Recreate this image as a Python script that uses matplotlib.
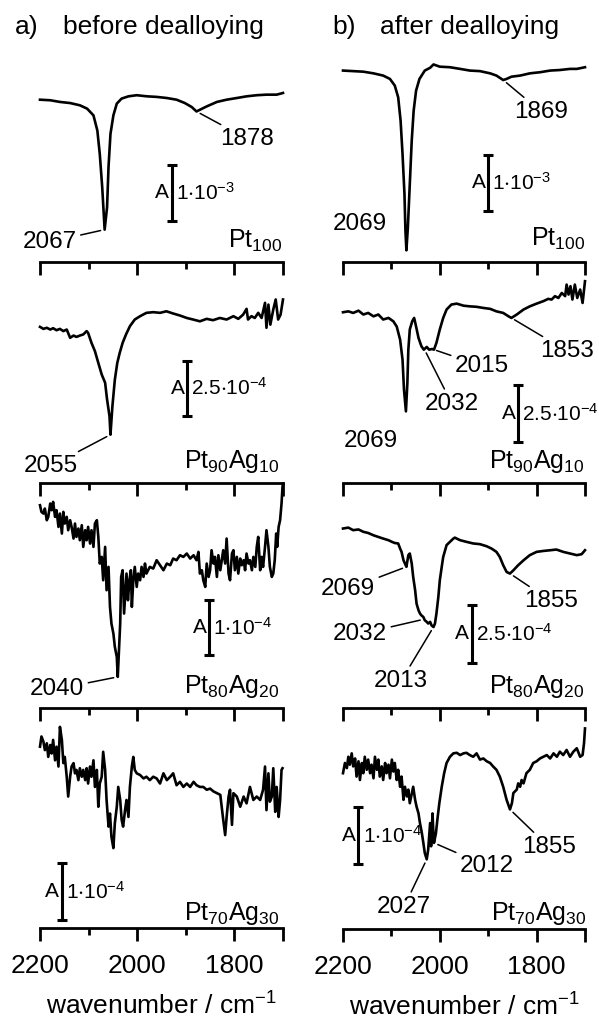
import numpy as np
import matplotlib.pyplot as plt

plt.rcParams['font.family'] = ['Liberation Sans', 'DejaVu Sans']
plt.rcParams['mathtext.fontset'] = 'custom'
plt.rcParams['mathtext.rm'] = 'Liberation Sans'
plt.rcParams['mathtext.it'] = 'Liberation Sans:italic'
plt.rcParams['mathtext.bf'] = 'Liberation Sans:bold'
plt.rcParams['mathtext.default'] = 'regular'

# ---------------- data: absorbance change, units of 1e-4 ----------------
# a) before dealloying
wn_a1 = [2200, 2179, 2159, 2138, 2118, 2103, 2090, 2082, 2077, 2072, 2067, 2062, 2059, 2055, 2049,
         2042, 2032, 2018, 2001, 1980, 1960, 1939, 1919, 1902, 1888, 1878, 1871, 1857, 1836, 1816,
         1795, 1775, 1754, 1734, 1713, 1700]
abs_a1 = [0.0, -0.1, -0.4, -0.6, -1.0, -1.6, -2.8, -5.5, -9.7, -15.6, -23.2, -19.2, -12.0, -6.1, -2.8,
          -0.7, 0.2, 0.6, 0.8, 0.6, 0.5, 0.3, 0.0, -0.6, -1.3, -2.1, -1.8, -1.2, -0.4, 0.0,
          0.3, 0.6, 0.8, 0.9, 0.9, 1.2]

wn_a2 = [2200, 2193, 2186, 2179, 2173, 2166, 2159, 2152, 2145, 2138, 2131, 2125, 2118, 2111, 2104,
         2101, 2094, 2087, 2080, 2073, 2066, 2062, 2057, 2055, 2051, 2046, 2041, 2036, 2030, 2023,
         2015, 2005, 1994, 1981, 1967, 1953, 1940, 1926, 1912, 1898, 1885, 1871, 1857, 1844, 1830,
         1816, 1802, 1792, 1782, 1775, 1772, 1765, 1758, 1751, 1744, 1737, 1734, 1730, 1726, 1720,
         1715, 1710, 1705, 1700]
abs_a2 = [0.0, -0.09, -0.04, -0.12, -0.06, -0.15, -0.09, -0.19, -0.12, -0.49, -0.39, -0.45, -0.39, -0.34, -0.19,
          -0.27, -0.72, -1.09, -1.62, -2.14, -2.51, -3.26, -4.01, -4.84, -3.56, -2.37, -1.62, -1.17, -0.72, -0.34,
          0.03, 0.33, 0.48, 0.63, 0.66, 0.63, 0.70, 0.60, 0.51, 0.40, 0.33, 0.25, 0.36, 0.30, 0.40,
          0.33, 0.48, 0.36, 0.55, 0.81, 0.33, 0.48, 0.40, 0.63, 0.40, 1.08, -0.04, 1.00, 0.10, 0.78,
          1.23, 0.33, 0.55, 1.23]

wn_a3 = [2200, 2197, 2193, 2190, 2186, 2183, 2179, 2176, 2173, 2169,
         2166, 2162, 2159, 2155, 2152, 2149, 2145, 2142, 2138, 2135,
         2131, 2128, 2125, 2121, 2118, 2114, 2111, 2107, 2104, 2101,
         2097, 2094, 2090, 2087, 2083, 2080, 2077, 2073, 2070, 2066,
         2063, 2059, 2056, 2053, 2049, 2046, 2042, 2040, 2035, 2033,
         2030, 2027, 2024, 2022, 2019, 2016, 2013, 2011, 2008, 2005,
         2001, 1998, 1994, 1991, 1987, 1984, 1981, 1974, 1967, 1960,
         1953, 1946, 1939, 1932, 1926, 1919, 1912, 1905, 1898, 1891,
         1884, 1878, 1874, 1871, 1867, 1864, 1860, 1857, 1853, 1850,
         1847, 1843, 1840, 1836, 1833, 1829, 1826, 1823, 1819, 1816,
         1812, 1809, 1805, 1802, 1799, 1795, 1792, 1788, 1785, 1781,
         1778, 1775, 1771, 1768, 1764, 1761, 1757, 1754, 1751, 1747,
         1744, 1741, 1737, 1734, 1730, 1727, 1723, 1720, 1717, 1714,
         1712, 1709, 1706, 1703, 1701, 1700]
abs_a3 = [0.00, -0.12, -0.15, -0.06, -0.27, -0.21, 0.03, -0.09, 0.06, -0.21,
          -0.09, -0.39, -0.15, -0.51, -0.12, -0.33, -0.21, -0.45, -0.27, -0.39,
          -0.60, -0.33, -0.57, -0.42, -0.63, -0.36, -0.75, -0.45, -0.63, -0.39,
          -0.69, -0.45, -0.75, -0.33, -0.27, -0.57, -1.05, -0.93, -1.35, -0.75,
          -1.53, -1.11, -1.83, -2.13, -2.31, -2.55, -2.73, -3.09, -2.13, -1.29,
          -1.17, -1.95, -1.53, -1.23, -1.71, -1.35, -1.17, -1.83, -1.35, -1.11,
          -1.47, -1.23, -1.35, -1.11, -1.29, -1.05, -1.23, -1.11, -1.14, -0.99,
          -1.08, -1.17, -1.05, -1.08, -0.96, -0.99, -0.90, -0.93, -0.87, -0.96,
          -0.90, -0.99, -0.84, -1.23, -1.17, -1.35, -1.47, -1.05, -1.29, -1.17,
          -0.81, -1.05, -0.93, -1.29, -0.90, -1.17, -0.99, -0.81, -1.05, -0.60,
          -1.23, -1.35, -0.87, -0.81, -1.17, -0.93, -1.23, -0.96, -1.08, -0.99,
          -1.17, -0.87, -1.05, -0.99, -1.17, -0.93, -1.11, -0.75, -0.57, -1.17,
          -0.93, -1.11, -0.75, -0.45, -0.75, -1.11, -1.29, -1.23, -0.99, -0.51,
          -0.75, -0.39, -0.27, 0.03, 0.33, 0.39]

wn_a4 = [2200, 2197, 2193, 2190, 2186, 2183, 2179, 2176, 2173, 2169,
         2166, 2162, 2159, 2155, 2152, 2149, 2145, 2142, 2138, 2135,
         2131, 2128, 2125, 2121, 2118, 2114, 2111, 2107, 2104, 2101,
         2097, 2094, 2090, 2087, 2083, 2080, 2077, 2073, 2070, 2066,
         2063, 2059, 2056, 2053, 2049, 2046, 2042, 2039, 2035, 2032,
         2029, 2025, 2022, 2018, 2015, 2011, 2008, 2005, 2001, 1994,
         1987, 1981, 1974, 1967, 1960, 1953, 1946, 1939, 1932, 1926,
         1919, 1912, 1905, 1898, 1891, 1884, 1878, 1871, 1864, 1857,
         1850, 1843, 1836, 1829, 1823, 1819, 1816, 1812, 1809, 1805,
         1802, 1795, 1788, 1781, 1775, 1768, 1761, 1754, 1747, 1741,
         1737, 1734, 1730, 1727, 1723, 1720, 1716, 1713, 1709, 1706, 1703, 1701]
abs_a4 = [0.00, 0.18, 0.09, -0.06, 0.06, -0.18, 0.03, -0.12, 0.12, -0.24,
          0.00, -0.35, 0.35, 0.12, -0.29, -0.18, -0.53, -0.88, -0.53, -0.35,
          -0.29, -0.47, -0.41, -0.59, -0.38, -0.53, -0.41, -0.59, -0.38, -0.65,
          -0.35, -0.53, -0.24, -0.71, -0.41, -1.06, -0.65, -0.53, -0.09, -0.41,
          -0.94, -1.41, -1.18, -1.59, -1.79, -1.35, -1.06, -0.71, -0.94, -1.29,
          -1.41, -1.12, -0.94, -1.24, -0.71, -0.35, -0.18, -0.41, -0.47, -0.50,
          -0.56, -0.53, -0.59, -0.53, -0.56, -0.65, -0.47, -0.59, -0.53, -0.47,
          -0.68, -0.62, -0.71, -0.65, -0.71, -0.62, -0.68, -0.71, -0.71, -0.76,
          -0.74, -0.79, -0.82, -0.85, -1.29, -1.56, -1.24, -0.88, -0.76, -1.38,
          -0.82, -0.88, -1.06, -0.88, -1.00, -0.71, -0.94, -0.88, -0.94, -0.76,
          -0.35, -1.12, -0.47, -0.97, -0.88, -0.38, -1.15, -0.71, -1.24, -0.94, -0.41, -0.38]

# b) after dealloying
wn_b1 = [2200, 2179, 2158, 2137, 2117, 2103, 2093, 2086, 2081, 2077, 2073, 2071, 2069, 2066, 2062,
         2058, 2054, 2049, 2042, 2031, 2020, 2013, 2000, 1979, 1958, 1938, 1917, 1896, 1883, 1869,
         1862, 1852, 1834, 1814, 1793, 1772, 1752, 1731, 1717, 1700]
abs_b1 = [0.0, -0.1, -0.2, -0.5, -0.9, -1.5, -2.7, -4.8, -9.0, -15.0, -22.2, -28.8, -32.3, -28.2, -20.4,
          -12.6, -7.2, -3.6, -1.5, 0.0, 0.5, 1.1, 0.7, 0.6, 0.3, 0.0, -0.1, -0.5, -0.9, -1.7,
          -1.5, -1.1, -0.9, -0.5, -0.3, 0.0, 0.1, 0.3, 0.3, 0.6]

wn_b2 = [2200, 2189, 2179, 2168, 2158, 2148, 2137, 2127, 2117, 2106, 2096, 2089, 2082, 2077, 2074,
         2070, 2067, 2065, 2062, 2057, 2053, 2049, 2044, 2038, 2033, 2027, 2022, 2016, 2012, 2007,
         2000, 1993, 1986, 1976, 1965, 1951, 1938, 1924, 1910, 1896, 1883, 1869, 1858, 1852, 1841,
         1827, 1814, 1800, 1786, 1776, 1769, 1762, 1755, 1748, 1741, 1738, 1734, 1730, 1726, 1721,
         1716, 1710, 1705, 1700]
abs_b2 = [0.0, 0.04, -0.03, 0.07, -0.10, -0.03, -0.18, -0.10, -0.32, -0.25, -0.40, -0.63, -1.21, -2.09, -3.41,
          -4.37, -3.12, -1.65, -0.76, -0.40, -0.25, -0.63, -1.13, -1.50, -1.65, -1.53, -1.65, -1.62, -1.65, -1.35,
          -0.76, -0.25, 0.12, 0.34, 0.38, 0.29, 0.26, 0.24, 0.19, 0.15, 0.04, -0.03, -0.18, -0.25, -0.10,
          0.12, 0.26, 0.38, 0.49, 0.59, 0.56, 0.71, 0.63, 0.85, 0.71, 1.22, 0.78, 1.15, 0.56, 1.22,
          0.63, 1.00, 0.41, 1.37]

wn_b3 = [2200, 2189, 2179, 2168, 2158, 2148, 2137, 2127, 2117, 2106,
         2099, 2093, 2086, 2082, 2079, 2075, 2072, 2069, 2065, 2062,
         2058, 2055, 2051, 2048, 2044, 2041, 2038, 2034, 2031, 2027,
         2024, 2020, 2017, 2013, 2010, 2007, 2003, 2000, 1996, 1993,
         1989, 1986, 1979, 1972, 1969, 1958, 1945, 1931, 1917, 1903,
         1893, 1883, 1876, 1869, 1862, 1855, 1848, 1838, 1827, 1814,
         1800, 1786, 1772, 1759, 1745, 1731, 1717, 1707, 1700]
abs_b3 = [0.00, 0.04, -0.07, -0.04, -0.14, -0.19, -0.29, -0.36, -0.43, -0.50,
          -0.57, -0.62, -0.64, -0.86, -1.00, -1.36, -1.50, -1.64, -1.14, -1.07,
          -1.50, -2.07, -2.64, -3.22, -3.50, -3.64, -3.72, -3.79, -3.93, -4.00,
          -4.07, -4.00, -4.15, -4.22, -4.07, -3.65, -2.93, -2.22, -1.64, -1.22,
          -0.93, -0.71, -0.57, -0.43, -0.39, -0.50, -0.57, -0.64, -0.67, -0.76,
          -0.86, -1.00, -1.22, -1.57, -1.86, -1.93, -1.79, -1.57, -1.36, -1.14,
          -1.00, -0.96, -0.93, -0.90, -1.00, -1.07, -1.14, -1.10, -0.93]

wn_b4 = [2200, 2196, 2192, 2189, 2186, 2182, 2179, 2175, 2172, 2168,
         2165, 2161, 2158, 2155, 2151, 2148, 2144, 2141, 2137, 2134,
         2130, 2127, 2124, 2120, 2117, 2113, 2110, 2106, 2103, 2099,
         2096, 2093, 2089, 2086, 2082, 2079, 2075, 2072, 2068, 2065,
         2062, 2055, 2051, 2048, 2044, 2041, 2037, 2034, 2031, 2027,
         2024, 2020, 2018, 2015, 2013, 2012, 2008, 2005, 2001, 1996,
         1991, 1986, 1979, 1972, 1965, 1958, 1951, 1945, 1938, 1931,
         1924, 1917, 1910, 1903, 1896, 1890, 1883, 1876, 1869, 1862,
         1855, 1851, 1848, 1841, 1838, 1834, 1831, 1827, 1821, 1814,
         1807, 1800, 1793, 1786, 1779, 1772, 1765, 1758, 1752, 1745,
         1738, 1731, 1724, 1717, 1710, 1705, 1702, 1700]
abs_b4 = [0.00, 0.18, 0.09, 0.29, 0.15, 0.35, 0.12, 0.26, -0.06, 0.21,
          -0.12, 0.18, 0.00, 0.29, 0.06, 0.24, 0.00, 0.15, -0.09, 0.29,
          0.06, 0.24, -0.06, 0.12, -0.12, 0.18, 0.00, 0.15, -0.09, 0.24,
          0.03, 0.18, -0.12, 0.06, -0.24, -0.06, -0.47, -0.24, -0.41, -0.29,
          -0.53, -0.24, -0.47, -0.59, -0.71, -0.88, -1.06, -1.23, -1.41, -1.52,
          -1.35, -0.88, -1.29, -0.71, -1.12, -1.23, -1.06, -0.82, -0.53, -0.24,
          0.00, 0.18, 0.29, 0.35, 0.36, 0.32, 0.35, 0.36, 0.32, 0.29,
          0.35, 0.24, 0.26, 0.21, 0.18, 0.12, 0.06, -0.06, -0.24, -0.47,
          -0.64, -0.53, -0.35, -0.29, -0.18, -0.24, -0.12, -0.18, 0.00, 0.06,
          0.18, 0.21, 0.26, 0.29, 0.32, 0.26, 0.35, 0.29, 0.38, 0.32,
          0.41, 0.29, 0.38, 0.44, 0.29, 0.32, 0.53, 0.79]

samples = [r'Pt$_{100}$', r'Pt$_{90}$Ag$_{10}$', r'Pt$_{80}$Ag$_{20}$', r'Pt$_{70}$Ag$_{30}$']
bars_a = [10, 2.5, 1, 1]          # scale bar size, 1e-4
bars_b = [10, 2.5, 2.5, 1]
bar_text = {10: r'1$\cdot$10$^{-3}$', 2.5: r'2.5$\cdot$10$^{-4}$', 1: r'1$\cdot$10$^{-4}$'}
peaks_a = [[2067, 1878], [2055], [2040], []]
peaks_b = [[2069, 1869], [2069, 2032, 2015, 1853], [2069, 2032, 2013, 1855], [2027, 2012, 1855]]

# ---------------- layout (pixels of the 599x1019 canvas) ----------------
W, H = 599, 1019
fig = plt.figure(figsize=(W / 100, H / 100), dpi=100)
fig.patch.set_facecolor('white')


def fxy(x, y):
    return (x / W, 1 - y / H)


cols = [(40, 243), (343, 242)]
base_y = [[262, 483, 708, 928], [262, 483, 708, 929]]
AX_H = 200
ylims = [[(-28.98, 6.73), (-7.01, 1.97), (-3.65, -0.05), (-3.20, 0.33)],
         [(-34.4, 1.54), (-7.53, 1.29), (-7.69, 0.88), (-2.75, 0.78)]]
bar_pos = [[(1929, -21.6), (1897, -4.01), (1852, -2.70), (2155, -3.06)],
           [(1900, -25.2), (1838, -5.73), (1934, -5.76), (2168, -1.60)]]
name_pos = [[(282, 248), (280, 468), (280, 693), (280, 920)],
            [(585, 246), (585, 468), (585, 693), (587, 920)]]
# label anchor (center x, baseline y) and whether a leader line is drawn
peak_pos = [[[(49.5, 248, 1), (247.5, 145, 1)], [(51, 472, 1)], [(57, 695, 1)], []],
            [[(360, 230, 0), (541.5, 118, 1)],
             [(371, 447, 0), (452, 410, 1), (482, 372, 1), (567, 357, 1)],
             [(348, 595, 1), (360, 640, 1), (401, 687, 1), (551, 607, 1)],
             [(404, 913, 1), (487, 872, 1), (549, 853, 1)]]]

series = [[(wn_a1, abs_a1), (wn_a2, abs_a2), (wn_a3, abs_a3), (wn_a4, abs_a4)],
          [(wn_b1, abs_b1), (wn_b2, abs_b2), (wn_b3, abs_b3), (wn_b4, abs_b4)]]
bars = [bars_a, bars_b]
peaks = [peaks_a, peaks_b]

for c in range(2):
    x0, w = cols[c]
    for r in range(4):
        yb = base_y[c][r]
        ax = fig.add_axes([x0 / W, 1 - yb / H, w / W, AX_H / H])
        ax.patch.set_visible(False)
        wn, a = series[c][r]
        ax.plot(wn, a, color='black', lw=1.9, clip_on=False)
        ax.set_xlim(2200, 1700)
        ax.set_ylim(*ylims[c][r])
        for s in ['left', 'right', 'top']:
            ax.spines[s].set_visible(False)
        ax.spines['bottom'].set_linewidth(2)
        ax.set_yticks([])
        ax.set_xticks([2200, 2000, 1800, 1700])
        ax.set_xticks([2100, 1900], minor=True)
        ax.tick_params(axis='x', which='major', direction='out', length=9.4, width=2,
                       labelsize=19, pad=9)
        ax.tick_params(axis='x', which='minor', direction='out', length=4.8, width=2)
        if r == 3:
            ax.set_xticklabels(['2200', '2000', '1800', ''])
            ax.set_xlabel('wavenumber / cm$^{-1}$', fontsize=19, labelpad=11)
        else:
            ax.tick_params(axis='x', labelbottom=False)

        # scale bar
        bx, by = bar_pos[c][r]
        bv = bars[c][r]
        ax.errorbar([bx], [by + bv / 2], yerr=[bv / 2], fmt='none', ecolor='black',
                    elinewidth=2.2, capsize=3.6, capthick=2.2, clip_on=False)
        ax.annotate('A', xy=(bx, by + bv / 2), xytext=(-2, 0), textcoords='offset points',
                    ha='right', va='center', fontsize=15)
        ax.annotate(bar_text[bv], xy=(bx, by + bv / 2), xytext=(3, 0), textcoords='offset points',
                    ha='left', va='center', fontsize=15)

        # sample name
        nx, ny = name_pos[c][r]
        fig.text(*fxy(nx, ny), samples[r], ha='right', va='baseline', fontsize=18)

        # peak labels
        wn_inc = np.array(wn[::-1])
        a_inc = np.array(a[::-1])
        for pk, (tx, ty, line) in zip(peaks[c][r], peak_pos[c][r]):
            if line:
                py = np.interp(pk, wn_inc, a_inc)
                ax.annotate(str(pk), xy=(pk, py), xytext=fxy(tx, ty),
                            textcoords='figure fraction', ha='center', va='baseline',
                            fontsize=17.5,
                            arrowprops=dict(arrowstyle='-', lw=1.1, color='black',
                                            shrinkA=1, shrinkB=3))
            else:
                fig.text(*fxy(tx, ty), str(pk), ha='center', va='baseline', fontsize=17.5)

fig.text(*fxy(15, 34), 'a)', ha='left', va='baseline', fontsize=19)
fig.text(*fxy(63, 34), 'before dealloying', ha='left', va='baseline', fontsize=19)
fig.text(*fxy(332, 34), 'b)', ha='left', va='baseline', fontsize=19)
fig.text(*fxy(380, 34), 'after dealloying', ha='left', va='baseline', fontsize=19)

fig.savefig('out.png', dpi=100)
